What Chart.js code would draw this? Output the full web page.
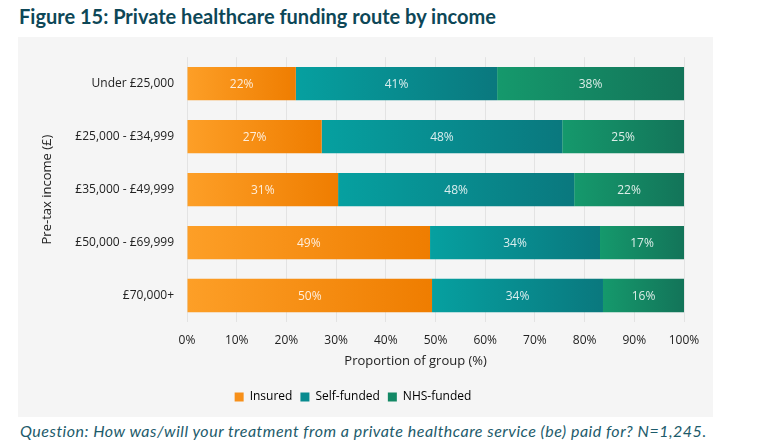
<!DOCTYPE html>
<html>
<head>
<meta charset="utf-8">
<script src="https://cdn.jsdelivr.net/npm/chart.js@4"></script>
<style>
  html, body { margin: 0; padding: 0; background: #ffffff; width: 766px; height: 447px; overflow: hidden; }
  #title { position: absolute; left: 19px; top: 4px; font-family: Lato, "Open Sans", sans-serif; font-weight: 700; font-size: 20px; color: #0d4757; white-space: nowrap; }
  #panel { position: absolute; left: 18px; top: 37px; width: 695px; height: 380px; background: #f5f5f5; }
  #footer { position: absolute; left: 20px; top: 421px; font-family: Lato, "Open Sans", sans-serif; font-style: italic; font-size: 16px; letter-spacing: 0.5px; color: #1d5b6b; white-space: nowrap; }
</style>
</head>
<body>
<div id="title">Figure 15: Private healthcare funding route by income</div>
<div id="panel"><canvas id="c" width="695" height="380"></canvas></div>
<div id="footer">Question: How was/will your treatment from a private healthcare service (be) paid for? N=1,245.</div>
<script>
const categories = ["Under £25,000", "£25,000 - £34,999", "£35,000 - £49,999", "£50,000 - £69,999", "£70,000+"];
const insured = [21.9, 27.1, 30.4, 48.9, 49.3];
const selfFunded = [40.5, 48.4, 47.5, 34.2, 34.4];
const nhsFunded = [37.6, 24.5, 22.1, 16.9, 16.3];
const insuredLabels = [22, 27, 31, 49, 50];
const selfFundedLabels = [41, 48, 48, 34, 34];
const nhsFundedLabels = [38, 25, 22, 17, 16];
const xTicks = [0, 10, 20, 30, 40, 50, 60, 70, 80, 90, 100];
const seriesNames = ["Insured", "Self-funded", "NHS-funded"];

const series = [insured, selfFunded, nhsFunded];
const seriesLabels = [insuredLabels, selfFundedLabels, nhsFundedLabels];
const gradColors = [["#fd9f27", "#ef7d00"], ["#06a0a0", "#0a787e"], ["#15996c", "#137459"]];
const legendColors = ["#f7901a", "#088b8f", "#138865"];

function grad(d) {
  return (ctx) => {
    const chart = ctx.chart;
    if (!chart.chartArea || ctx.type !== 'data') return gradColors[d][1];
    const xs = chart.scales.x;
    const i = ctx.dataIndex;
    let start = 0;
    for (let k = 0; k < d; k++) start += series[k][i];
    const end = start + series[d][i];
    const x0 = xs.getPixelForValue(start), x1 = xs.getPixelForValue(end);
    const g = chart.ctx.createLinearGradient(x0, 0, x1, 0);
    g.addColorStop(0, gradColors[d][0]);
    g.addColorStop(1, gradColors[d][1]);
    return g;
  };
}

const labelPlugin = {
  id: 'segLabels',
  afterDatasetsDraw(chart) {
    const c = chart.ctx;
    c.save();
    c.font = '12px "Open Sans", sans-serif';
    c.fillStyle = 'rgba(255,255,255,0.85)';
    c.textAlign = 'center';
    c.textBaseline = 'middle';
    chart.data.datasets.forEach((ds, d) => {
      chart.getDatasetMeta(d).data.forEach((el, i) => {
        const cx = (el.x + el.base) / 2;
        c.fillText(seriesLabels[d][i] + '%', cx, el.y + 1);
      });
    });
    // x-axis title
    const a = chart.chartArea;
    c.font = '13px "Open Sans", sans-serif';
    c.fillStyle = '#222';
    c.fillText('Proportion of group (%)', a.left + a.width * 0.46, a.bottom + 39);
    c.restore();
  }
};

new Chart(document.getElementById('c'), {
  type: 'bar',
  data: {
    labels: categories,
    datasets: series.map((s, d) => ({
      label: seriesNames[d],
      data: s,
      backgroundColor: grad(d),
      borderWidth: 0,
      barPercentage: 0.63,
      categoryPercentage: 1.0
    }))
  },
  options: {
    indexAxis: 'y',
    responsive: false,
    animation: false,
    devicePixelRatio: 1,
    layout: { padding: { left: 4, right: 29, top: 15, bottom: 4 } },
    scales: {
      x: {
        stacked: true,
        min: 0, max: 100,
        afterBuildTicks: (scale) => { scale.ticks = xTicks.map(v => ({ value: v })); },
        afterFit: (scale) => { scale.height = 61; },
        grid: { color: '#e3e3e3', lineWidth: 1, drawTicks: false },
        border: { display: false },
        ticks: { padding: 11, color: '#222', font: { family: 'Open Sans', size: 12 }, callback: (v) => v + '%' }
      },
      y: {
        stacked: true,
        afterFit: (scale) => { scale.width = 165; },
        grid: { display: false, drawTicks: false },
        border: { display: false },
        ticks: { padding: 13, color: '#222', font: { family: 'Open Sans', size: 12 } },
        title: { display: true, text: 'Pre-tax income (£)', color: '#222', font: { family: 'Open Sans', size: 13 }, padding: { top: 17 } }
      }
    },
    plugins: {
      tooltip: { enabled: false },
      legend: {
        position: 'bottom',
        labels: {
          boxWidth: 9, boxHeight: 9, padding: 8,
          color: '#222',
          font: { family: 'Open Sans', size: 12 },
          generateLabels: (chart) => seriesNames.map((n, d) => ({
            text: n, fillStyle: legendColors[d], strokeStyle: legendColors[d], lineWidth: 0, datasetIndex: d, hidden: false
          }))
        }
      }
    }
  },
  plugins: [labelPlugin]
});
</script>
</body>
</html>
